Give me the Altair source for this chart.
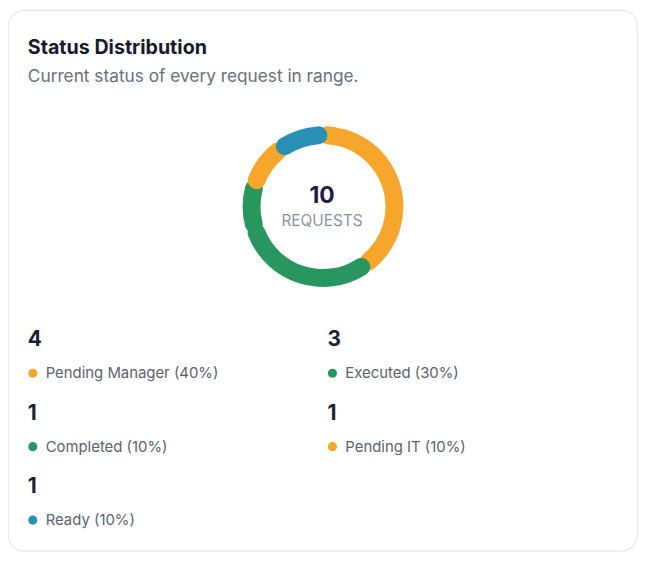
import pandas as pd
import altair as alt

# status data
statuses = ["Pending Manager", "Executed", "Completed", "Pending IT", "Ready"]
counts = [4, 3, 1, 1, 1]
colors = ["#F5A62B", "#27965F", "#27965F", "#F5A62B", "#2A8FB4"]
legend_col = [0, 1, 0, 1, 0]
legend_row = [0, 0, 1, 1, 2]

title = "Status Distribution"
subtitle = "Current status of every request in range."
center_label = "REQUESTS"

total = sum(counts)
overlap = 0.1  # lets each rounded arc end slip over its neighbour

df = pd.DataFrame({
    "status": statuses,
    "count": counts,
    "color": colors,
    "col": legend_col,
    "row": legend_row,
})
df["end"] = df["count"].cumsum()
df["start"] = df["end"] - df["count"] - overlap
df["end"] = df["end"] + overlap
df["pct"] = (df["count"] / total * 100).round().astype(int)
df["label"] = df["status"] + " (" + df["pct"].astype(str) + "%)"

FONT = "Inter"
W, H = 634, 545
cx, cy = 317.5, 198

base = alt.Chart(df)

donut = base.mark_arc(innerRadius=63, outerRadius=81, cornerRadius=9).encode(
    theta=alt.Theta("start:Q", scale=alt.Scale(domain=[0, total]), stack=None),
    theta2="end:Q",
    color=alt.Color("color:N", scale=None),
    x=alt.value(cx),
    y=alt.value(cy),
)

center_num = alt.Chart(pd.DataFrame({"t": [str(total)]})).mark_text(
    font=FONT, fontSize=23, fontWeight="bold", color="#1E1B4B", baseline="middle"
).encode(text="t:N", x=alt.value(cx - 1), y=alt.value(cy - 11))

center_txt = alt.Chart(pd.DataFrame({"t": [center_label]})).mark_text(
    font=FONT, fontSize=15.5, color="#8A93A6", baseline="middle"
).encode(text="t:N", x=alt.value(cx - 1), y=alt.value(cy + 15))

heading = alt.Chart(pd.DataFrame({"t": [title]})).mark_text(
    font=FONT, fontSize=19.8, fontWeight="bold", color="#161B2B", align="left", baseline="alphabetic"
).encode(text="t:N", x=alt.value(20), y=alt.value(44))

subheading = alt.Chart(pd.DataFrame({"t": [subtitle]})).mark_text(
    font=FONT, fontSize=17.4, color="#687080", align="left", baseline="alphabetic"
).encode(text="t:N", x=alt.value(20), y=alt.value(72))

xs = alt.X("col:Q", scale=alt.Scale(domain=[0, 1], range=[20, 322]), axis=None)
ys = alt.Y("row:Q", scale=alt.Scale(domain=[0, 2], range=[333, 481]), axis=None)

leg_num = base.mark_text(
    font=FONT, fontSize=21, fontWeight="bold", color="#1C2233", align="left", baseline="middle"
).encode(x=xs, y=ys, text="count:Q")

leg_dot = base.mark_circle(size=85, opacity=1, xOffset=5, yOffset=33).encode(
    x=xs, y=ys, color=alt.Color("color:N", scale=None)
)

leg_label = base.mark_text(
    font=FONT, fontSize=15, color="#5A6272", align="left", baseline="middle", dx=18, dy=33
).encode(x=xs, y=ys, text="label:N")

chart = alt.layer(
    donut, center_num, center_txt, heading, subheading, leg_num, leg_dot, leg_label
).properties(
    width=W,
    height=H,
    padding={"left": 0, "top": 0, "right": 2, "bottom": 2},
    autosize=alt.AutoSizeParams(type="none"),
    background="white",
).configure_view(
    stroke="#E6E8EC",
    strokeWidth=1.2,
    cornerRadius=16,
    fill="white",
)

chart.save("out.html", embed_options={"renderer": "svg", "actions": False})
